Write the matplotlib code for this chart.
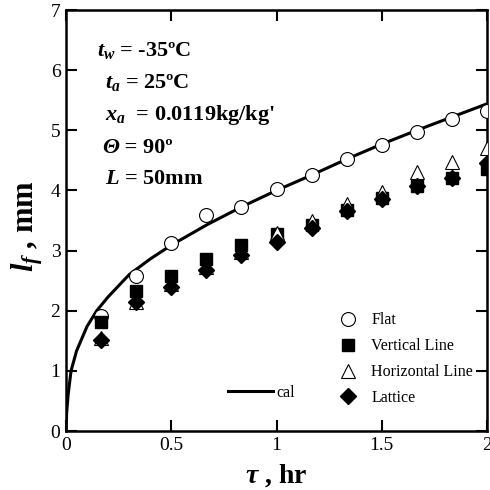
import matplotlib
matplotlib.use("Agg")
import matplotlib.pyplot as plt
from matplotlib.lines import Line2D

plt.rcParams['font.family'] = ['Liberation Serif', 'DejaVu Serif']
plt.rcParams['mathtext.fontset'] = 'custom'
plt.rcParams['mathtext.rm'] = 'Liberation Serif:bold'
plt.rcParams['mathtext.it'] = 'Liberation Serif:bold:italic'
plt.rcParams['mathtext.bf'] = 'Liberation Serif:bold'

# time [hr]
tau = [0.167, 0.333, 0.5, 0.667, 0.833, 1.0, 1.167, 1.333, 1.5, 1.667, 1.833, 2.0]
flat = [1.91, 2.58, 3.13, 3.59, 3.72, 4.03, 4.26, 4.53, 4.76, 4.97, 5.19, 5.32]
vertical = [1.81, 2.33, 2.58, 2.86, 3.09, 3.28, 3.42, 3.68, 3.88, 4.08, 4.21, 4.35]
horizontal = [1.55, 2.15, 2.45, 2.72, 2.97, 3.30, 3.50, 3.78, 3.98, 4.30, 4.47, 4.70]
lattice = [1.52, 2.15, 2.40, 2.68, 2.93, 3.14, 3.37, 3.66, 3.85, 4.08, 4.20, 4.45]

# calculated curve
cal_x = [0.0, 0.003, 0.01, 0.024, 0.05, 0.1, 0.146, 0.2, 0.3, 0.4, 0.5, 0.67, 0.836,
         1.0, 1.17, 1.333, 1.5, 1.667, 1.833, 2.0]
cal_y = [0.0, 0.30, 0.60, 1.00, 1.33, 1.74, 2.00, 2.23, 2.60, 2.86, 3.09, 3.43, 3.73,
         4.00, 4.26, 4.52, 4.77, 5.00, 5.22, 5.44]

xticks = [0, 0.5, 1, 1.5, 2]
xticklabels = ['0', '0.5', '1', '1.5', '2']
yticks = [0, 1, 2, 3, 4, 5, 6, 7]

fig = plt.figure(figsize=(4.9, 4.9), dpi=100)
ax = fig.add_axes([66/490, 59/490, 421/490, 421/490])

ax.plot(cal_x, cal_y, color='black', lw=2.2, zorder=2)
ax.plot(tau, flat, 'o', ms=10, mfc='white', mec='black', mew=0.8, zorder=3, label='Flat')
ax.plot(tau, vertical, 's', ms=8.5, mfc='black', mec='black', zorder=4, label='Vertical Line')
ax.plot(tau, horizontal, '^', ms=10.5, mfc='white', mec='black', mew=0.8, zorder=5, label='Horizontal Line')
ax.plot(tau, lattice, 'D', ms=8.5, mfc='black', mec='black', zorder=6, label='Lattice')

ax.set_xlim(0, 2)
ax.set_ylim(0, 7)
ax.set_xticks(xticks)
ax.set_xticklabels(xticklabels)
ax.set_yticks(yticks)
ax.tick_params(direction='in', length=8, width=1.5, top=True, right=True,
               labelsize=14, pad=4)
for s in ax.spines.values():
    s.set_linewidth(1.8)

def ay(py):
    return (431 - py) / 421
def axx(px):
    return (px - 66) / 421

ax.set_xlabel(r'$\mathit{\tau}$ , hr', fontsize=20, fontweight='bold')
ax.xaxis.set_label_coords(0.5, ay(483))
ax.xaxis.label.set_va('baseline')
ax.set_ylabel(r'$l_f$ , mm', fontsize=22, fontweight='bold')
ax.yaxis.set_label_coords(axx(45), ay(226))

# condition text
fs = 16
tk = dict(transform=ax.transAxes, fontsize=fs, fontweight='bold', va='baseline', ha='left')
ax.text(axx(97), ay(56), r'$t_w$ = -35ºC', **tk)
ax.text(axx(105), ay(88), r'$t_a$ = 25ºC', **tk)
ax.text(axx(105), ay(120), r"$x_a$  = 0.0119kg/kg'", **tk)
th = ax.text(axx(102), ay(153), 'Θ', fontstyle='italic', **tk)
ax.annotate(' = 90º', xy=(1, 0), xycoords=th, fontsize=fs, fontweight='bold',
            va='bottom', ha='left')
ax.text(axx(105), ay(184), r'$L$ = 50mm', **tk)

leg = ax.legend(loc='lower right', bbox_to_anchor=(axx(473), ay(406)), frameon=False,
                fontsize=11.5, handletextpad=0.45, labelspacing=0.62,
                borderaxespad=0, borderpad=0)
ax.add_artist(leg)
cal_handle = Line2D([], [], color='black', lw=2.2)
leg2 = ax.legend([cal_handle], ['cal'], loc='lower left',
                 bbox_to_anchor=(axx(222), ay(407)), frameon=False,
                 fontsize=11.5, handlelength=2.8, handletextpad=0.2, borderaxespad=0)

fig.savefig('out.png', dpi=100)
